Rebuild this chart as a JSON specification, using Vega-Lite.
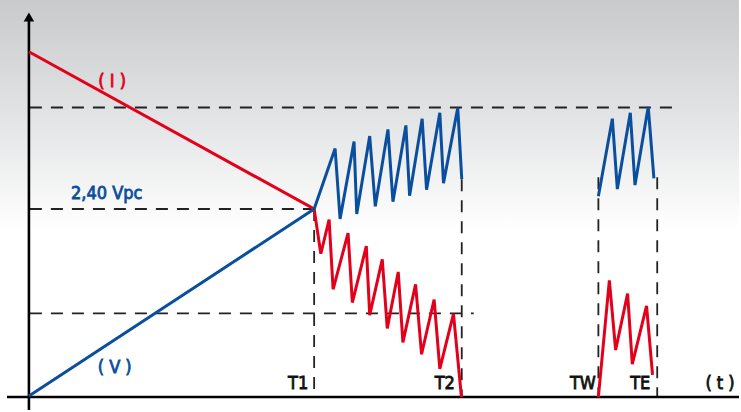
{
  "$schema": "https://vega.github.io/schema/vega-lite/v6.json",
  "width": 741,
  "height": 412,
  "autosize": {"type": "fit", "contains": "padding"},
  "padding": 0,
  "background": "#ffffff",
  "config": {"view": {"stroke": null}},
  "datasets": {
    "bg": [{"x": 0, "x2": 741, "y": 0, "y2": 412}],
    "dashes": [
      {"x": 30, "x2": 680, "y": 108, "y2": 108},
      {"x": 30, "x2": 315, "y": 210, "y2": 210},
      {"x": 30, "x2": 475, "y": 315, "y2": 315},
      {"x": 315, "x2": 315, "y": 210, "y2": 399},
      {"x": 463, "x2": 463, "y": 180, "y2": 399},
      {"x": 600, "x2": 600, "y": 178, "y2": 399},
      {"x": 659, "x2": 659, "y": 178, "y2": 399}
    ],
    "axes": [
      {"x": 29, "x2": 29, "y": 18, "y2": 412},
      {"x": 7, "x2": 741, "y": 399, "y2": 399}
    ],
    "arrow": [{"x": 29, "y": 17}],
    "curves": [
      {"series": "I", "seg": "a", "i": 0, "x": 29, "y": 52},
      {"series": "I", "seg": "a", "i": 1, "x": 315, "y": 210},
      {"series": "I", "seg": "a", "i": 2, "x": 321.7, "y": 255},
      {"series": "I", "seg": "a", "i": 3, "x": 330, "y": 220.7},
      {"series": "I", "seg": "a", "i": 4, "x": 334, "y": 290.7},
      {"series": "I", "seg": "a", "i": 5, "x": 349, "y": 234.3},
      {"series": "I", "seg": "a", "i": 6, "x": 353.3, "y": 304},
      {"series": "I", "seg": "a", "i": 7, "x": 367.3, "y": 247.3},
      {"series": "I", "seg": "a", "i": 8, "x": 370.7, "y": 316.7},
      {"series": "I", "seg": "a", "i": 9, "x": 383.3, "y": 260.7},
      {"series": "I", "seg": "a", "i": 10, "x": 388.3, "y": 330},
      {"series": "I", "seg": "a", "i": 11, "x": 399.3, "y": 273.3},
      {"series": "I", "seg": "a", "i": 12, "x": 404, "y": 344},
      {"series": "I", "seg": "a", "i": 13, "x": 416.7, "y": 285.7},
      {"series": "I", "seg": "a", "i": 14, "x": 422.7, "y": 356},
      {"series": "I", "seg": "a", "i": 15, "x": 435.3, "y": 301},
      {"series": "I", "seg": "a", "i": 16, "x": 441, "y": 370.7},
      {"series": "I", "seg": "a", "i": 17, "x": 454.7, "y": 315.3},
      {"series": "I", "seg": "a", "i": 18, "x": 462.7, "y": 399},
      {"series": "I", "seg": "b", "i": 0, "x": 600, "y": 399},
      {"series": "I", "seg": "b", "i": 1, "x": 611, "y": 281.7},
      {"series": "I", "seg": "b", "i": 2, "x": 617.3, "y": 351.7},
      {"series": "I", "seg": "b", "i": 3, "x": 629.3, "y": 295},
      {"series": "I", "seg": "b", "i": 4, "x": 634, "y": 366},
      {"series": "I", "seg": "b", "i": 5, "x": 648.3, "y": 307.3},
      {"series": "I", "seg": "b", "i": 6, "x": 654.3, "y": 376.7},
      {"series": "V", "seg": "c", "i": 0, "x": 29, "y": 398},
      {"series": "V", "seg": "c", "i": 1, "x": 315, "y": 210},
      {"series": "V", "seg": "c", "i": 2, "x": 336, "y": 149.3},
      {"series": "V", "seg": "c", "i": 3, "x": 341, "y": 220},
      {"series": "V", "seg": "c", "i": 4, "x": 355, "y": 142.3},
      {"series": "V", "seg": "c", "i": 5, "x": 357.7, "y": 215},
      {"series": "V", "seg": "c", "i": 6, "x": 370.7, "y": 136.7},
      {"series": "V", "seg": "c", "i": 7, "x": 376.3, "y": 207.3},
      {"series": "V", "seg": "c", "i": 8, "x": 389, "y": 130},
      {"series": "V", "seg": "c", "i": 9, "x": 394, "y": 202.7},
      {"series": "V", "seg": "c", "i": 10, "x": 407, "y": 126},
      {"series": "V", "seg": "c", "i": 11, "x": 410.7, "y": 196.7},
      {"series": "V", "seg": "c", "i": 12, "x": 423.3, "y": 119.3},
      {"series": "V", "seg": "c", "i": 13, "x": 427.7, "y": 190.7},
      {"series": "V", "seg": "c", "i": 14, "x": 441, "y": 113.3},
      {"series": "V", "seg": "c", "i": 15, "x": 444.7, "y": 184},
      {"series": "V", "seg": "c", "i": 16, "x": 459, "y": 108.3},
      {"series": "V", "seg": "c", "i": 17, "x": 463, "y": 180},
      {"series": "V", "seg": "d", "i": 0, "x": 600, "y": 197.3},
      {"series": "V", "seg": "d", "i": 1, "x": 614, "y": 119.3},
      {"series": "V", "seg": "d", "i": 2, "x": 619, "y": 190},
      {"series": "V", "seg": "d", "i": 3, "x": 632, "y": 113.3},
      {"series": "V", "seg": "d", "i": 4, "x": 636.7, "y": 186},
      {"series": "V", "seg": "d", "i": 5, "x": 650, "y": 107.3},
      {"series": "V", "seg": "d", "i": 6, "x": 655.7, "y": 179.3}
    ],
    "labels": [
      {"series": "I", "label": "( I )", "x": 112.5, "y": 87},
      {"series": "V", "label": "2,40 Vpc", "x": 107, "y": 200},
      {"series": "V", "label": "( V )", "x": 115, "y": 375},
      {"series": "K", "label": "T1", "x": 299, "y": 391},
      {"series": "K", "label": "T2", "x": 446, "y": 391},
      {"series": "K", "label": "TW", "x": 584.5, "y": 391},
      {"series": "K", "label": "TE", "x": 642, "y": 391},
      {"series": "K", "label": "( t )", "x": 722, "y": 391}
    ]
  },
  "layer": [
    {
      "data": {"name": "bg"},
      "mark": {
        "type": "rect",
        "color": {
          "gradient": "linear", "x1": 0, "y1": 0, "x2": 0, "y2": 1,
          "stops": [
            {"offset": 0, "color": "#c9cacc"},
            {"offset": 0.3, "color": "#e4e5e6"},
            {"offset": 0.56, "color": "#ffffff"},
            {"offset": 1, "color": "#ffffff"}
          ]
        }
      },
      "encoding": {
        "x": {"field": "x", "type": "quantitative", "scale": {"domain": [0, 741], "nice": false, "zero": false}, "axis": null},
        "x2": {"field": "x2"},
        "y": {"field": "y", "type": "quantitative", "scale": {"domain": [0, 412], "nice": false, "zero": false, "reverse": true}, "axis": null},
        "y2": {"field": "y2"}
      }
    },
    {
      "data": {"name": "dashes"},
      "mark": {"type": "rule", "color": "#222222", "strokeWidth": 1.8, "strokeDash": [12, 9]},
      "encoding": {
        "x": {"field": "x", "type": "quantitative", "scale": {"domain": [0, 741], "nice": false, "zero": false}, "axis": null},
        "x2": {"field": "x2"},
        "y": {"field": "y", "type": "quantitative", "scale": {"domain": [0, 412], "nice": false, "zero": false, "reverse": true}, "axis": null},
        "y2": {"field": "y2"}
      }
    },
    {
      "data": {"name": "axes"},
      "mark": {"type": "rule", "color": "#000000", "strokeWidth": 2.6},
      "encoding": {
        "x": {"field": "x", "type": "quantitative", "scale": {"domain": [0, 741], "nice": false, "zero": false}, "axis": null},
        "x2": {"field": "x2"},
        "y": {"field": "y", "type": "quantitative", "scale": {"domain": [0, 412], "nice": false, "zero": false, "reverse": true}, "axis": null},
        "y2": {"field": "y2"}
      }
    },
    {
      "data": {"name": "arrow"},
      "mark": {"type": "point", "shape": "triangle-up", "filled": true, "color": "#000000", "size": 110, "opacity": 1},
      "encoding": {
        "x": {"field": "x", "type": "quantitative", "scale": {"domain": [0, 741], "nice": false, "zero": false}, "axis": null},
        "y": {"field": "y", "type": "quantitative", "scale": {"domain": [0, 412], "nice": false, "zero": false, "reverse": true}, "axis": null}
      }
    },
    {
      "data": {"name": "curves"},
      "mark": {"type": "line", "strokeWidth": 3, "strokeJoin": "miter", "strokeCap": "butt"},
      "encoding": {
        "x": {"field": "x", "type": "quantitative", "scale": {"domain": [0, 741], "nice": false, "zero": false}, "axis": null},
        "y": {"field": "y", "type": "quantitative", "scale": {"domain": [0, 412], "nice": false, "zero": false, "reverse": true}, "axis": null},
        "detail": {"field": "seg"},
        "order": {"field": "i", "type": "quantitative"},
        "color": {"field": "series", "type": "nominal", "scale": {"domain": ["I", "V", "K"], "range": ["#e3001b", "#0a4f9e", "#111111"]}, "legend": null}
      }
    },
    {
      "data": {"name": "labels"},
      "mark": {"type": "text", "font": "DejaVu Sans Condensed", "fontSize": 18, "fontWeight": "normal", "align": "center", "baseline": "alphabetic", "strokeWidth": 0.8},
      "encoding": {
        "x": {"field": "x", "type": "quantitative", "scale": {"domain": [0, 741], "nice": false, "zero": false}, "axis": null},
        "y": {"field": "y", "type": "quantitative", "scale": {"domain": [0, 412], "nice": false, "zero": false, "reverse": true}, "axis": null},
        "text": {"field": "label"},
        "fill": {"field": "series", "type": "nominal", "scale": {"domain": ["I", "V", "K"], "range": ["#e3001b", "#0a4f9e", "#111111"]}, "legend": null},
        "stroke": {"field": "series", "type": "nominal", "scale": {"domain": ["I", "V", "K"], "range": ["#e3001b", "#0a4f9e", "#111111"]}, "legend": null}
      }
    }
  ]
}
